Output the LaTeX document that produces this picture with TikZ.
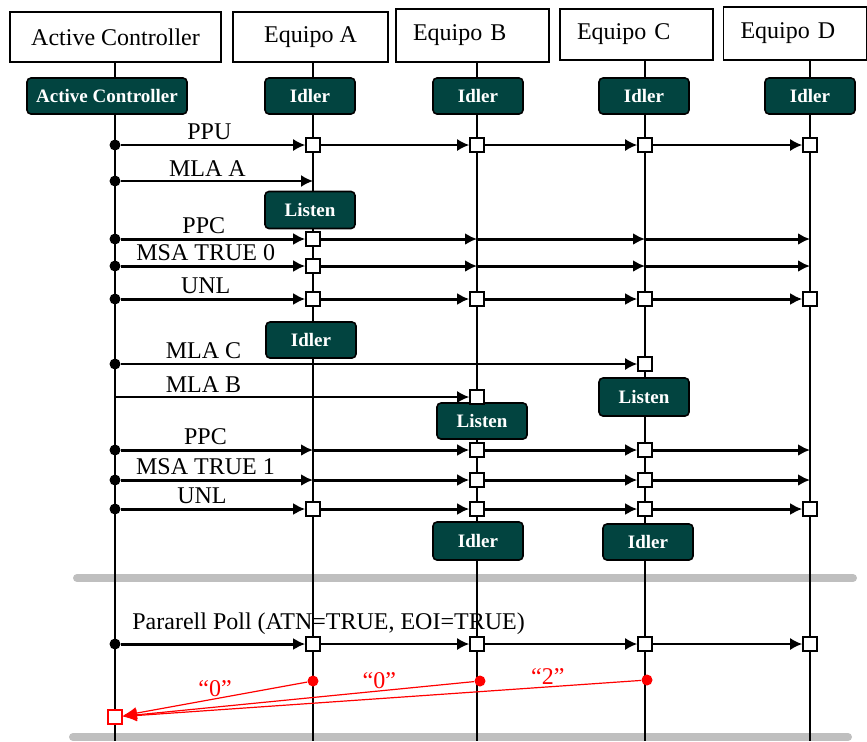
\documentclass[tikz,border=0pt]{standalone}
\usepackage{fontspec}
\setmainfont{Liberation Serif}
\usepackage{tikz}
\usetikzlibrary{arrows.meta}

\definecolor{stfill}{RGB}{2,68,64}

\begin{document}
\begin{tikzpicture}[x=0.5pt,y=-0.5pt,
  hdr/.style={draw,line width=0.8pt,fill=white,minimum height=25pt,inner sep=0pt,font=\fontsize{12}{14}\selectfont},
  hdrl/.style={hdr,align=left,text width=#1,inner xsep=8.5pt},
  st/.style={draw,line width=0.8pt,rounded corners=2pt,fill=stfill,text=white,minimum width=45pt,minimum height=18pt,inner sep=1pt,font=\bfseries\fontsize{9.5}{10}\selectfont},
  life/.style={line width=0.9pt},
  sq/.style={draw,fill=white,line width=0.8pt,minimum size=7pt,inner sep=0pt},
  dot/.style={circle,fill,minimum size=5.5pt,inner sep=0pt},
  msg/.style={-{Latex[length=6pt,width=6pt]},line width=0.9pt},
  msgb/.style={msg,line width=1.5pt},
  lbl/.style={above,inner sep=1pt,yshift=1pt,font=\fontsize{12}{14}\selectfont},
  bar/.style={line width=4pt,line cap=round,black!25},
  rdot/.style={circle,fill=red,minimum size=5.5pt,inner sep=0pt},
  rsq/.style={draw=red,fill=white,line width=0.8pt,minimum size=7pt,inner sep=0pt},
  rmsg/.style={-{Latex[length=7pt,width=6pt]},red,line width=0.6pt},
  rlbl/.style={above,inner sep=1pt,text=red,font=\fontsize{12}{14}\selectfont}]
  \useasboundingbox (0,0) rectangle (867,741);

  % separators
  \draw[bar] (77,578) -- (853,578);
  \draw[bar] (73,737) -- (848,737);

  % lifelines
  \foreach \l/\x/\t in {k/115/62,a/313/62,b/477/62,c/645/60,d/810/60} {
    \coordinate (\l top) at (\x,\t);
    \coordinate (\l bot) at (\x,741);
    \draw[life] (\l top) -- (\l bot);
  }

  % headers
  \node[hdr,minimum width=105.5pt] (hK) at (115.5,37) {Active Controller};
  \node[hdr,minimum width=77.5pt] (hA) at (310.5,37) {Equipo A};
  \node[hdrl=59.5pt,minimum height=26.5pt] (hB) at (472.5,35.5) {Equipo B};
  \node[hdrl=59.5pt,minimum height=25.5pt] (hC) at (636.5,34.5) {Equipo C};
  \node[hdrl=54.5pt,minimum height=26.5pt] (hD) at (795,33.5) {Equipo D};

  % states
  \node[st,minimum width=80pt] (sK) at (107,96) {Active Controller};
  \node[st] (sA) at (310,96) {Idler};
  \node[st] (sB) at (478,96) {Idler};
  \node[st] (sC) at (644,96) {Idler};
  \node[st] (sD) at (810,96) {Idler};
  \node[st,minimum height=18.5pt] (lsA) at (310,210) {Listen};
  \node[st] (idA) at (311,340) {Idler};
  \node[st,minimum height=19pt] (lsC) at (644,397) {Listen};
  \node[st] (lsB) at (482,421) {Listen};
  \node[st,minimum height=19pt] (idB) at (478,541) {Idler};
  \node[st] (idC) at (648,542) {Idler};

  % message rows
  \foreach \r/\y in {1/145,2/181,3/239,4/266,5/299,6/364,7/397,8/450,9/480,10/509,11/644}
    \foreach \l/\x in {k/115,a/313,b/477,c/645,d/810}
      \coordinate (\l\r) at (\x,\y);
  \foreach \r in {1,2,3,4,5,6,8,9,10,11}
    \node[dot] (p\r) at (k\r) {};
  \foreach \n in {a1,b1,c1,d1,a3,a4,a5,b5,c5,d5,c6,b7,b8,c8,b9,c9,a10,b10,c10,d10,a11,b11,c11,d11}
    \node[sq] (s\n) at (\n) {};

  \draw[msg] (p1) -- node[lbl,pos=.48] {PPU} (sa1);
  \draw[msg] (p2) -- node[lbl,pos=.45] {MLA A} (a2);
  \draw[msgb] (p3) -- node[lbl,pos=.45] {PPC} (sa3);
  \draw[msgb] (p4) -- node[lbl,pos=.46] {MSA TRUE 0} (sa4);
  \draw[msgb] (p5) -- node[lbl,pos=.46] {UNL} (sa5);
  \draw[msg] (p6) -- node[lbl,pos=.16] {MLA C} (sc6);
  \draw[msg] (k7) -- node[lbl,pos=.25] {MLA B} (sb7);
  \draw[msgb] (p8) -- node[lbl,pos=.44] {PPC} (a8);
  \draw[msgb] (p9) -- node[lbl,pos=.44] {MSA TRUE 1} (a9);
  \draw[msgb] (p10) -- node[lbl,pos=.44] {UNL} (sa10);
  \draw[msgb] (p11) -- node[lbl,anchor=south west,pos=0,xshift=4pt,yshift=2pt] {Pararell Poll (ATN=TRUE, EOI=TRUE)} (sa11);

  \foreach \u/\v in {sa1/sb1,sb1/sc1,sc1/sd1,sa11/sb11,sb11/sc11,sc11/sd11}
    \draw[msg] (\u) -- (\v);
  \foreach \u/\v in {sa3/b3,b3/c3,c3/d3,sa4/b4,b4/c4,c4/d4,sa5/sb5,sb5/sc5,sc5/sd5,
                     a8/sb8,sb8/sc8,sc8/d8,a9/sb9,sb9/sc9,sc9/d9,sa10/sb10,sb10/sc10,sc10/sd10}
    \draw[msgb] (\u) -- (\v);

  % parallel poll answers
  \node[rsq] (rK) at (115,717) {};
  \node[rdot] (rA) at (313,681) {};
  \node[rdot] (rB) at (480,681) {};
  \node[rdot] (rC) at (647,680) {};
  \draw[rmsg] (rA) -- node[rlbl,pos=.5] {“0”} (rK);
  \draw[rmsg] (rB) -- node[rlbl,pos=.27] {“0”} (rK);
  \draw[rmsg] (rC) -- node[rlbl,pos=.18] {“2”} (rK);
\end{tikzpicture}
\end{document}
